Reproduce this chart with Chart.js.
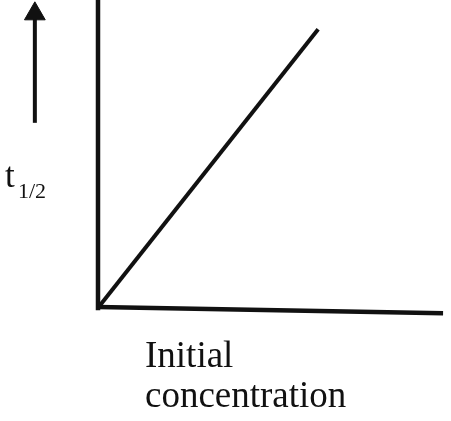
<!DOCTYPE html>
<html>
<head>
<meta charset="utf-8">
<script src="https://cdn.jsdelivr.net/npm/chart.js@4.4.1/dist/chart.umd.min.js"></script>
<style>
  html, body { margin: 0; padding: 0; background: #fff; }
  #wrap { width: 451px; height: 421px; }
</style>
</head>
<body>
<div id="wrap"><canvas id="chart"></canvas></div>
<script>
// plot data (unit scale, origin at corner of the axes)
const halfLifeLine = [{ x: 0.006, y: 0.006 }, { x: 0.638, y: 0.905 }];
const yAxisLine = [{ x: 0, y: -0.01 }, { x: 0, y: 1.0 }];
const xAxisLine = [{ x: 0, y: 0 }, { x: 1, y: -0.02 }];
const arrowLine = [{ x: -0.183, y: 0.6 }, { x: -0.183, y: 0.955 }];
// text labels
const yLabel = ["t", "1/2"];
const xLabel = ["Initial", "concentration"];

const ink = "#111";

// draws the axis labels as text
const labelPlugin = {
  id: "labels",
  afterDraw(chart) {
    const ctx = chart.ctx;
    ctx.save();
    ctx.fillStyle = ink;
    ctx.textBaseline = "alphabetic";
    ctx.font = "35px 'Liberation Serif', 'Times New Roman', serif";
    ctx.fillText(yLabel[0], 5, 187);
    ctx.font = "22px 'Liberation Serif', 'Times New Roman', serif";
    ctx.fillText(yLabel[1], 18, 198);
    ctx.font = "37px 'Liberation Serif', 'Times New Roman', serif";
    ctx.fillText(xLabel[0], 145, 367);
    ctx.fillText(xLabel[1], 145, 407);
    ctx.restore();
  }
};

new Chart(document.getElementById("chart"), {
  type: "scatter",
  plugins: [labelPlugin],
  data: {
    datasets: [
      { data: halfLifeLine, showLine: true, borderColor: ink, borderWidth: 4, pointRadius: 0, clip: false },
      { data: yAxisLine, showLine: true, borderColor: ink, borderWidth: 4.5, pointRadius: 0, clip: false },
      { data: xAxisLine, showLine: true, borderColor: ink, borderWidth: 4.5, pointRadius: 0, clip: false },
      {
        data: arrowLine, showLine: true, borderColor: ink, borderWidth: 4, clip: false,
        pointStyle: "triangle", pointRadius: [0, 12], pointRotation: 0,
        pointBackgroundColor: ink, pointBorderColor: ink, pointBorderWidth: 1
      }
    ]
  },
  options: {
    responsive: true,
    maintainAspectRatio: false,
    animation: false,
    layout: { autoPadding: false, padding: 0 },
    plugins: { legend: { display: false }, tooltip: { enabled: false } },
    scales: {
      x: { type: "linear", min: -0.284, max: 1.023, display: false },
      y: { type: "linear", min: -0.371, max: 1, display: false }
    }
  }
});
</script>
</body>
</html>
